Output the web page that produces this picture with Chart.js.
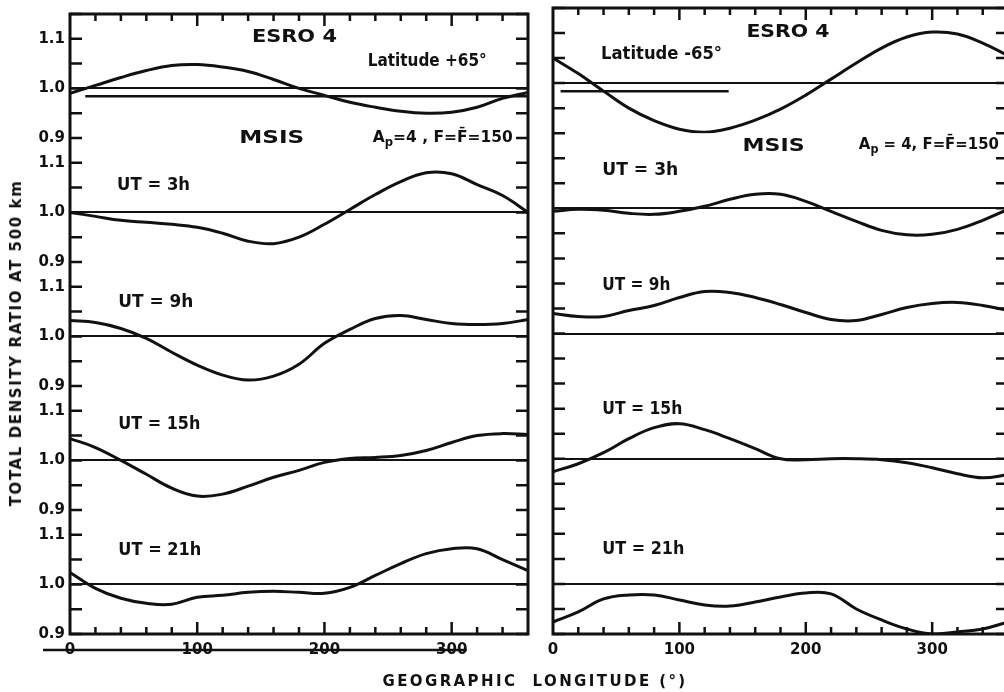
<!DOCTYPE html>
<html>
<head>
<meta charset="utf-8">
<script src="https://cdn.jsdelivr.net/npm/chart.js@4.4.1/dist/chart.umd.min.js"></script>
<style>
  html, body { margin: 0; padding: 0; background: #fff; overflow: hidden; width: 1004px; height: 692px; }
  #leftPanel { position: absolute; left: 0; top: 0; }
  #rightPanel { position: absolute; left: 540px; top: 0; }
  .axisTitle {
    position: absolute; white-space: nowrap; color: #111;
    font-family: "DejaVu Sans", sans-serif; font-weight: bold; font-size: 15px;
  }
  #yTitle { left: 16px; top: 343px; letter-spacing: 1.6px; transform: translate(-50%, -50%) rotate(-90deg); }
  #xTitle { left: 535px; top: 681px; letter-spacing: 2.4px; transform: translate(-50%, -50%); }
</style>
</head>
<body>
<canvas id="leftPanel" width="540" height="692"></canvas>
<canvas id="rightPanel" width="480" height="692"></canvas>
<div class="axisTitle" id="yTitle">TOTAL DENSITY RATIO AT 500 km</div>
<div class="axisTitle" id="xTitle">GEOGRAPHIC&nbsp; LONGITUDE (°)</div>
<script>
const longitude = [0, 20, 40, 60, 80, 100, 120, 140, 160, 180, 200, 220, 240, 260, 280, 300, 320, 340, 360];

// ESRO 4 observed density ratio
const esroLatPlus65  = [0.990, 1.006, 1.022, 1.036, 1.046, 1.048, 1.043, 1.034, 1.018, 1.000, 0.986, 0.972, 0.962, 0.954, 0.950, 0.952, 0.962, 0.980, 0.992];
const esroLatMinus65 = [1.050, 1.019, 0.984, 0.950, 0.925, 0.908, 0.902, 0.910, 0.926, 0.948, 0.976, 1.008, 1.040, 1.070, 1.092, 1.102, 1.098, 1.080, 1.055];

// ESRO 4 mean level (short horizontal line)
const meanPlus65Lon = [12, 360];
const meanPlus65Ratio = [0.984, 0.984];
const meanMinus65Lon = [6, 139];
const meanMinus65Ratio = [0.984, 0.984];

// MSIS model, latitude +65
const msisPlus3h  = [1.000, 0.992, 0.984, 0.980, 0.976, 0.970, 0.958, 0.942, 0.937, 0.950, 0.976, 1.006, 1.036, 1.062, 1.080, 1.078, 1.056, 1.034, 1.000];
const msisPlus9h  = [1.032, 1.028, 1.016, 0.996, 0.968, 0.942, 0.922, 0.912, 0.920, 0.944, 0.986, 1.014, 1.036, 1.042, 1.034, 1.026, 1.024, 1.026, 1.034];
const msisPlus15h = [1.044, 1.026, 1.000, 0.972, 0.944, 0.928, 0.932, 0.948, 0.966, 0.980, 0.996, 1.004, 1.006, 1.010, 1.020, 1.036, 1.050, 1.054, 1.052];
const msisPlus21h = [1.024, 0.992, 0.972, 0.962, 0.960, 0.974, 0.978, 0.984, 0.986, 0.984, 0.982, 0.994, 1.018, 1.042, 1.062, 1.072, 1.072, 1.050, 1.028];

// MSIS model, latitude -65
const msisMinus3h  = [0.994, 0.998, 0.996, 0.990, 0.988, 0.994, 1.004, 1.018, 1.028, 1.028, 1.014, 0.994, 0.974, 0.956, 0.947, 0.948, 0.958, 0.976, 0.998];
const msisMinus9h  = [1.040, 1.034, 1.034, 1.046, 1.056, 1.072, 1.084, 1.082, 1.072, 1.058, 1.042, 1.028, 1.026, 1.038, 1.052, 1.060, 1.062, 1.056, 1.046];
const msisMinus15h = [0.974, 0.990, 1.012, 1.040, 1.062, 1.070, 1.058, 1.040, 1.020, 1.000, 0.998, 1.000, 1.000, 0.998, 0.992, 0.982, 0.970, 0.962, 0.968];
const msisMinus21h = [0.924, 0.944, 0.970, 0.978, 0.978, 0.968, 0.958, 0.956, 0.964, 0.974, 0.982, 0.980, 0.950, 0.928, 0.910, 0.900, 0.904, 0.910, 0.924];

// Tick labels
const yTickLabels = ['0.9', '1.0', '1.1'];
const xTickLabels = ['0', '100', '200', '300'];

const FONT = '"DejaVu Sans", sans-serif';
const INK = '#111';
const subAxes = ['y0', 'y1', 'y2', 'y3', 'y4'];

function toPoints(lons, vals) {
    return lons.map((x, i) => ({ x: x, y: vals[i] }));
}

function curve(vals, axisId) {
    return {
        data: toPoints(longitude, vals),
        yAxisID: axisId,
        borderColor: INK,
        borderWidth: 3,
        pointRadius: 0,
        tension: 0.4,
        fill: false
    };
}

function straight(lons, vals, axisId) {
    return {
        data: toPoints(lons, vals),
        yAxisID: axisId,
        borderColor: INK,
        borderWidth: 2.5,
        pointRadius: 0,
        fill: false
    };
}

// Frame, inward tick marks and text labels
const decorPlugin = {
    id: 'decor',
    afterDraw(chart, args, opts) {
        const { ctx, chartArea: a, scales } = chart;
        ctx.save();
        ctx.strokeStyle = INK;
        ctx.lineWidth = 3;
        ctx.strokeRect(a.left, a.top, a.right - a.left, a.bottom - a.top);

        ctx.lineWidth = 2.5;
        ctx.beginPath();
        scales.x.ticks.forEach(t => {
            if (t.value <= 0 || t.value >= 360) return;
            const px = scales.x.getPixelForValue(t.value);
            const len = t.value % 100 === 0 ? 12 : 7;
            ctx.moveTo(px, a.bottom); ctx.lineTo(px, a.bottom - len);
            ctx.moveTo(px, a.top); ctx.lineTo(px, a.top + len);
        });
        subAxes.forEach(id => {
            const s = scales[id];
            s.ticks.forEach(t => {
                const py = s.getPixelForValue(t.value);
                ctx.moveTo(a.left, py); ctx.lineTo(a.left + 12, py);
                ctx.moveTo(a.right, py); ctx.lineTo(a.right - 12, py);
            });
        });
        ctx.stroke();

        if (opts.strike) {
            ctx.beginPath();
            ctx.moveTo(a.left - 27, a.bottom + 16);
            ctx.lineTo(scales.x.getPixelForValue(300) + 15, a.bottom + 16);
            ctx.stroke();
        }

        // lettering, squeezed horizontally to the width of the original lettering
        ctx.fillStyle = INK;
        ctx.textBaseline = 'middle';
        ctx.textAlign = 'left';
        (opts.labels || []).forEach(lab => {
            const x = scales.x.getPixelForValue(lab.lon);
            const y = scales[lab.axis].getPixelForValue(lab.ratio);
            const widths = lab.parts.map(p => {
                ctx.font = 'bold ' + (p[1] ? Math.round(lab.size * 0.72) : lab.size) + 'px ' + FONT;
                return ctx.measureText(p[0]).width;
            });
            const total = widths.reduce((s, w) => s + w, 0);
            ctx.save();
            ctx.translate(x, y);
            ctx.scale(lab.w / total, 1);
            let cx = 0;
            lab.parts.forEach((p, i) => {
                ctx.font = 'bold ' + (p[1] ? Math.round(lab.size * 0.72) : lab.size) + 'px ' + FONT;
                ctx.fillText(p[0], cx, p[1] ? 5 : 0);
                cx += widths[i];
            });
            ctx.restore();
        });
        ctx.restore();
    }
};

function buildScales(showYLabels, yWidth) {
    const scales = {
        x: {
            type: 'linear', position: 'bottom', min: 0, max: 360,
            ticks: {
                stepSize: 20, autoSkip: false, maxRotation: 0, padding: 7, color: INK,
                font: { family: FONT, size: 15, weight: 'bold' },
                callback: v => xTickLabels.includes(String(v)) ? String(v) : ''
            },
            grid: { display: false, drawTicks: false },
            border: { display: false },
            afterFit: s => { s.height = 58; }
        }
    };
    // defined bottom-up so that y0 ends up on top of the stack
    for (let i = subAxes.length - 1; i >= 0; i--) {
        scales[subAxes[i]] = {
            type: 'linear', position: 'left', stack: 'panel', stackWeight: 1,
            min: 0.9, max: 1.15,
            ticks: {
                display: showYLabels, stepSize: 0.05, autoSkip: false, padding: 5, color: INK,
                font: { family: FONT, size: 15, weight: 'bold' },
                callback: v => {
                    const s = v.toFixed(1);
                    return (Math.abs(v - parseFloat(s)) < 1e-6 && yTickLabels.includes(s)) ? s : '';
                }
            },
            grid: {
                drawTicks: false, lineWidth: 2,
                color: c => (c.tick && Math.abs(c.tick.value - 1.0) < 1e-6) ? INK : 'rgba(0,0,0,0)'
            },
            border: { display: false },
            afterFit: s => { s.width = yWidth; }
        };
    }
    return scales;
}

function makePanel(canvasId, datasets, showYLabels, yWidth, labels, strike) {
    new Chart(document.getElementById(canvasId), {
        type: 'line',
        data: { datasets: datasets },
        options: {
            responsive: false,
            animation: false,
            parsing: false,
            layout: { padding: { top: 8, right: 12, bottom: 0, left: 0 } },
            plugins: {
                legend: { display: false },
                tooltip: { enabled: false },
                decor: { labels: labels, strike: strike }
            },
            scales: buildScales(showYLabels, yWidth)
        },
        plugins: [decorPlugin]
    });
}

makePanel('leftPanel', [
    curve(esroLatPlus65, 'y0'),
    straight(meanPlus65Lon, meanPlus65Ratio, 'y0'),
    curve(msisPlus3h, 'y1'),
    curve(msisPlus9h, 'y2'),
    curve(msisPlus15h, 'y3'),
    curve(msisPlus21h, 'y4')
], true, 70, [
    { parts: [['ESRO 4']], lon: 143, ratio: 1.102, axis: 'y0', size: 17, w: 85 },
    { parts: [['Latitude +65°']], lon: 234, ratio: 1.054, axis: 'y0', size: 17, w: 119 },
    { parts: [['MSIS']], lon: 133, ratio: 0.9, axis: 'y0', size: 18, w: 65 },
    { parts: [['A'], ['p', true], ['=4 , F=F\u0304=150']], lon: 238, ratio: 0.9, axis: 'y0', size: 16, w: 140 },
    { parts: [['UT = 3h']], lon: 37, ratio: 1.054, axis: 'y1', size: 18, w: 73 },
    { parts: [['UT = 9h']], lon: 38, ratio: 1.068, axis: 'y2', size: 18, w: 75 },
    { parts: [['UT = 15h']], lon: 38, ratio: 1.072, axis: 'y3', size: 18, w: 82 },
    { parts: [['UT = 21h']], lon: 38, ratio: 1.068, axis: 'y4', size: 18, w: 83 }
], true);

makePanel('rightPanel', [
    curve(esroLatMinus65, 'y0'),
    straight(meanMinus65Lon, meanMinus65Ratio, 'y0'),
    curve(msisMinus3h, 'y1'),
    curve(msisMinus9h, 'y2'),
    curve(msisMinus15h, 'y3'),
    curve(msisMinus21h, 'y4')
], false, 13, [
    { parts: [['ESRO 4']], lon: 153, ratio: 1.10, axis: 'y0', size: 17, w: 83 },
    { parts: [['Latitude -65°']], lon: 38, ratio: 1.056, axis: 'y0', size: 17, w: 121 },
    { parts: [['MSIS']], lon: 150, ratio: 1.124, axis: 'y1', size: 18, w: 62 },
    { parts: [['A'], ['p', true], [' = 4, F=F\u0304=150']], lon: 242, ratio: 1.126, axis: 'y1', size: 16, w: 140 },
    { parts: [['UT = 3h']], lon: 39, ratio: 1.076, axis: 'y1', size: 18, w: 76 },
    { parts: [['UT = 9h']], lon: 39, ratio: 1.096, axis: 'y2', size: 18, w: 68 },
    { parts: [['UT = 15h']], lon: 39, ratio: 1.098, axis: 'y3', size: 18, w: 80 },
    { parts: [['UT = 21h']], lon: 39, ratio: 1.07, axis: 'y4', size: 18, w: 82 }
], false);
</script>
</body>
</html>
